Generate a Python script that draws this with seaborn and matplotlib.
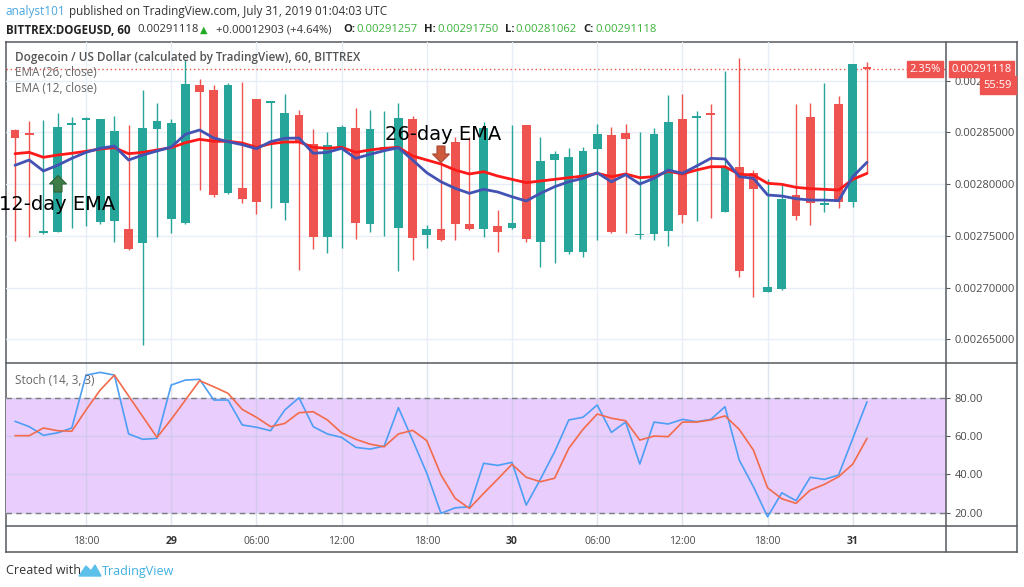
import numpy as np
import pandas as pd
import matplotlib
matplotlib.use("Agg")
import matplotlib.pyplot as plt
import matplotlib.patches as mpatches
from matplotlib.lines import Line2D
import seaborn as sns

# hourly candles, BITTREX:DOGEUSD 60 (Jul 28 13:00 -> Jul 31 01:00)
bar_open = [0.0028522, 0.0028480, 0.0027527, 0.0027539, 0.0028567, 0.0028615, 0.0027633, 0.0027640, 0.0027565, 0.0027430,
            0.0028534, 0.0027665, 0.0027623, 0.0028957, 0.0028908, 0.0027910, 0.0027958, 0.0028818, 0.0028786, 0.0027816,
            0.0028664, 0.0028384, 0.0027485, 0.0028355, 0.0028538, 0.0027616, 0.0028338, 0.0027578, 0.0028625, 0.0027504,
            0.0027565, 0.0028409, 0.0027611, 0.0027568, 0.0027591, 0.0027578, 0.0028570, 0.0027440, 0.0028232, 0.0027346,
            0.0027340, 0.0028335, 0.0028476, 0.0028493, 0.0027504, 0.0027514, 0.0027549, 0.0028625, 0.0028641, 0.0028672,
            0.0027732, 0.0028161, 0.0028109, 0.0026959, 0.0026985, 0.0027897, 0.0028644, 0.0027794, 0.0028773, 0.0027823,
            0.00291257]
bar_close = [0.0028447, 0.0028473, 0.0027546, 0.0028548, 0.0028573, 0.0028621, 0.0028625, 0.0028515, 0.0027372, 0.0028541,
             0.0028609, 0.0028586, 0.0028969, 0.0028886, 0.0027894, 0.0028957, 0.0027852, 0.0027826, 0.0028792, 0.0028689,
             0.0028409, 0.0027491, 0.0028374, 0.0028548, 0.0027626, 0.0028529, 0.0028357, 0.0028635, 0.0027475, 0.0027565,
             0.0027459, 0.0027616, 0.0027568, 0.0028544, 0.0027539, 0.0027620, 0.0027466, 0.0028225, 0.0028290, 0.0028258,
             0.0028319, 0.0028486, 0.0027536, 0.0028435, 0.0027510, 0.0028486, 0.0028596, 0.0027700, 0.0028644, 0.0028667,
             0.0028161, 0.0027162, 0.0027949, 0.0027008, 0.0027858, 0.0027691, 0.0027819, 0.0027800, 0.0027823, 0.0029159,
             0.00291118]
bar_high = [0.0028528, 0.0028609, 0.0028618, 0.0028689, 0.0028644, 0.0028644, 0.0028628, 0.0028660, 0.0028570, 0.0028908,
            0.0028780, 0.0028625, 0.0029198, 0.0029012, 0.0028957, 0.0028973, 0.0028983, 0.0028821, 0.0028805, 0.0028867,
            0.0028715, 0.0028529, 0.0028505, 0.0028570, 0.0028731, 0.0028715, 0.0028708, 0.0028786, 0.0028657, 0.0027600,
            0.0028215, 0.0028450, 0.0028457, 0.0028596, 0.0027750, 0.0028570, 0.0028575, 0.0028451, 0.0028319, 0.0028351,
            0.0028360, 0.0028580, 0.0028554, 0.0028580, 0.0028505, 0.0028538, 0.0028860, 0.0028867, 0.0028705, 0.0028773,
            0.0029095, 0.0029215, 0.0028135, 0.0028045, 0.0027990, 0.0028773, 0.0028786, 0.0028973, 0.0028850, 0.0029164,
            0.0029175]
bar_low = [0.0027449, 0.0027488, 0.0027517, 0.0027536, 0.0027572, 0.0027597, 0.0027611, 0.0027440, 0.0027362, 0.0026442,
           0.0027485, 0.0027529, 0.0027614, 0.0027942, 0.0027877, 0.0027903, 0.0027814, 0.0027707, 0.0027771, 0.0027652,
           0.0027169, 0.0027372, 0.0027330, 0.0027379, 0.0027466, 0.0027533, 0.0027500, 0.0027162, 0.0027266, 0.0027385,
           0.0027454, 0.0027459, 0.0027556, 0.0027485, 0.0027340, 0.0027565, 0.0027442, 0.0027201, 0.0027240, 0.0027324,
           0.0027292, 0.0027459, 0.0027524, 0.0027524, 0.0027469, 0.0027459, 0.0027401, 0.0027626, 0.0027643, 0.0027669,
           0.0027725, 0.0027099, 0.0026911, 0.0026956, 0.0026981, 0.0027652, 0.0027604, 0.0027732, 0.0027771, 0.0027781,
           0.00281062]

ema26 = [0.0028293, 0.0028306, 0.0028258, 0.0028280, 0.0028297, 0.0028316, 0.0028338, 0.0028351, 0.0028293, 0.0028306,
         0.0028329, 0.0028351, 0.0028399, 0.0028432, 0.0028413, 0.0028413, 0.0028396, 0.0028355, 0.0028389, 0.0028406,
         0.0028406, 0.0028355, 0.0028345, 0.0028355, 0.0028306, 0.0028329, 0.0028345, 0.0028355, 0.0028271, 0.0028232,
         0.0028193, 0.0028135, 0.0028097, 0.0028119, 0.0028077, 0.0028045, 0.0028013, 0.0028029, 0.0028045, 0.0028061,
         0.0028077, 0.0028103, 0.0028071, 0.0028097, 0.0028061, 0.0028071, 0.0028123, 0.0028097, 0.0028135, 0.0028167,
         0.0028167, 0.0028094, 0.0028087, 0.0028007, 0.0027997, 0.0027968, 0.0027955, 0.0027949, 0.0027942, 0.0028045,
         0.0028103]
ema12 = [0.0028181, 0.0028232, 0.0028126, 0.0028181, 0.0028248, 0.0028306, 0.0028345, 0.0028367, 0.0028232, 0.0028280,
         0.0028319, 0.0028357, 0.0028480, 0.0028522, 0.0028444, 0.0028409, 0.0028380, 0.0028341, 0.0028409, 0.0028442,
         0.0028444, 0.0028297, 0.0028306, 0.0028345, 0.0028248, 0.0028287, 0.0028322, 0.0028351, 0.0028232, 0.0028109,
         0.0028022, 0.0027958, 0.0027910, 0.0027949, 0.0027923, 0.0027877, 0.0027836, 0.0027910, 0.0027974, 0.0028022,
         0.0028055, 0.0028109, 0.0028022, 0.0028090, 0.0028000, 0.0028055, 0.0028135, 0.0028103, 0.0028174, 0.0028248,
         0.0028242, 0.0028071, 0.0028055, 0.0027894, 0.0027884, 0.0027858, 0.0027845, 0.0027845, 0.0027839, 0.0028071,
         0.0028210]

stoch_k = [67.7, 64.9, 60.4, 61.7, 64.2, 91.8, 93.2, 91.8, 61.1, 58.3,
           58.8, 86.6, 89.2, 89.6, 78.8, 78.8, 65.8, 64.6, 62.8, 73.6,
           80.0, 64.9, 61.1, 59.3, 54.1, 53.2, 54.8, 74.8, 57.9, 40.6,
           19.7, 22.6, 23.1, 45.8, 44.7, 46.3, 24.0, 37.5, 51.8, 68.4,
           69.8, 76.2, 61.9, 67.3, 45.4, 67.3, 66.3, 68.7, 67.5, 68.7,
           75.3, 47.5, 33.6, 17.9, 30.4, 26.3, 38.5, 37.4, 39.7, 58.8,
           77.9]
stoch_d = [60.2, 60.2, 64.2, 62.8, 62.5, 73.6, 84.0, 91.8, 80.9, 70.1,
           59.3, 68.7, 78.8, 88.9, 85.7, 82.3, 73.9, 69.8, 64.9, 66.6,
           72.2, 72.7, 68.4, 61.7, 58.3, 55.8, 54.4, 61.1, 63.0, 57.6,
           39.7, 27.5, 22.3, 30.1, 37.6, 45.3, 38.5, 36.2, 38.0, 53.6,
           63.5, 71.5, 69.3, 68.0, 57.9, 60.0, 59.7, 67.3, 67.3, 68.4,
           70.5, 63.5, 52.7, 33.0, 27.3, 24.9, 31.8, 34.8, 38.8, 45.4,
           58.8]

time_ticks = [5, 11, 17, 23, 29, 35, 41, 47, 53, 59]
time_labels = ["18:00", "29", "06:00", "12:00", "18:00", "30", "06:00", "12:00", "18:00", "31"]
price_ticks = [0.00265, 0.0027, 0.00275, 0.0028, 0.00285, 0.0029]
stoch_ticks = [20, 40, 60, 80]
last_price = 0.00291118

df = pd.DataFrame({"bar": np.arange(len(bar_open)), "open": bar_open, "close": bar_close,
                   "high": bar_high, "low": bar_low, "ema26": ema26, "ema12": ema12,
                   "k": stoch_k, "d": stoch_d})

GREEN = "#26a69a"
RED = "#ef5350"
FRAME = "#55585f"
GRID = "#e8eef5"
TXT = "#4a4a4a"

sns.set_style("white")
plt.rcParams["font.family"] = ["Open Sans", "DejaVu Sans"]

W, H = 1024, 587
fig = plt.figure(figsize=(W / 100, H / 100), dpi=100)


def fx(px):
    return px / W


def fy(py):
    return 1 - py / H


# outer frame
frame = fig.add_axes([fx(6), fy(552), fx(1017) - fx(6), fy(42) - fy(552)])
frame.set_xticks([])
frame.set_yticks([])
frame.set_facecolor("none")
for s in frame.spines.values():
    s.set_color(FRAME)
    s.set_linewidth(1.1)
for yy in (363, 526):
    fig.add_artist(Line2D([fx(6), fx(1017)], [fy(yy), fy(yy)], color=FRAME, lw=1.1))
fig.add_artist(Line2D([fx(946), fx(946)], [fy(42), fy(552)], color=FRAME, lw=1.1))

xlim = (-(15 - 6) / 14.2, (946 - 15) / 14.2)

# ---- price pane
ax = fig.add_axes([fx(6), fy(363), fx(946) - fx(6), fy(42) - fy(363)])
ax.set_facecolor("none")
up = df["close"] >= df["open"]
colors = np.where(up, GREEN, RED)
ax.vlines(df["bar"], df["low"], df["high"], colors=colors, lw=1, zorder=2)
body = (df["close"] - df["open"]).abs().clip(lower=1.8e-6)
ax.bar(df["bar"], body, bottom=np.minimum(df["open"], df["close"]), width=0.62,
       color=colors, zorder=3, linewidth=0)
sns.lineplot(data=df, x="bar", y="ema26", ax=ax, color="#ff1a1a", lw=2, zorder=4)
sns.lineplot(data=df, x="bar", y="ema12", ax=ax, color="#4353b3", lw=2, zorder=4)
ax.axhline(last_price, color=RED, ls=(0, (1, 2)), lw=1, zorder=1)
ax.set_xlim(*xlim)
ax.set_ylim(0.0026271, 0.0029372)
ax.set_xticks(time_ticks)
ax.set_yticks(price_ticks)
ax.set_yticklabels([f"{v:.8f}" for v in price_ticks])
ax.yaxis.tick_right()
ax.tick_params(axis="y", length=3, color=FRAME, pad=3, labelsize=8, labelcolor=TXT)
ax.tick_params(axis="x", length=0, labelbottom=False)
ax.grid(True, color=GRID, lw=1)
ax.set_axisbelow(True)
ax.set_xlabel("")
ax.set_ylabel("")
for s in ax.spines.values():
    s.set_visible(False)

# ---- stochastic pane
ax2 = fig.add_axes([fx(6), fy(526), fx(946) - fx(6), fy(363) - fy(526)])
ax2.set_facecolor("none")
ax2.axhspan(20, 80, color="#e9cdfc", zorder=0, lw=0)
for lvl in (20, 80):
    ax2.axhline(lvl, color="#7b7b82", ls=(0, (4, 3)), lw=1, zorder=2)
sns.lineplot(data=df, x="bar", y="k", ax=ax2, color="#4d9ef5", lw=1.2, zorder=4)
sns.lineplot(data=df, x="bar", y="d", ax=ax2, color="#f26b4c", lw=1.2, zorder=4)
ax2.set_xlim(*xlim)
ax2.set_ylim(13.1, 98.1)
ax2.set_yticks(stoch_ticks)
ax2.set_yticklabels([f"{v:.2f}" for v in stoch_ticks])
ax2.yaxis.tick_right()
ax2.tick_params(axis="y", length=3, color=FRAME, pad=3, labelsize=8, labelcolor=TXT)
ax2.set_xticks(time_ticks)
ax2.set_xticklabels(time_labels)
ax2.tick_params(axis="x", length=3, color=FRAME, pad=4, labelsize=7.5, labelcolor=TXT)
for lab in ax2.get_xticklabels():
    if ":" not in lab.get_text():
        lab.set_fontweight("bold")
        lab.set_color("#333333")
ax2.grid(True, color="#b9c7dc", alpha=0.45, lw=1)
ax2.set_axisbelow(True)
ax2.set_xlabel("")
ax2.set_ylabel("")
for s in ax2.spines.values():
    s.set_visible(False)

# ---- header
fig.text(fx(6), fy(12), "analyst101", color="#49a7df", fontsize=8.5, va="center")
fig.text(fx(69), fy(12), "published on TradingView.com, July 31, 2019 01:04:03 UTC",
         color="#333333", fontsize=8.5, va="center")
hdr = [(6, "BITTREX:DOGEUSD, 60", "#222222", "bold", 8.3),
       (137, "0.00291118", "#333333", "normal", 8.1),
       (200, "\u25b2", "#22aa22", "normal", 7),
       (216, "+0.00012903 (+4.64%)", "#333333", "normal", 8.1),
       (343, "O:", "#222222", "bold", 8.1),
       (356, "0.00291257", "#3cb33c", "normal", 8.1),
       (424, "H:", "#222222", "bold", 8.1),
       (437, "0.00291750", "#3cb33c", "normal", 8.1),
       (505, "L:", "#222222", "bold", 8.1),
       (515, "0.00281062", "#3cb33c", "normal", 8.1),
       (583, "C:", "#222222", "bold", 8.1),
       (595, "0.00291118", "#3cb33c", "normal", 8.1)]
for px, s, c, w, fs in hdr:
    fig.text(fx(px), fy(30), s, color=c, fontsize=fs, fontweight=w, va="center")

# pane legends
fig.text(fx(15), fy(57), "Dogecoin / US Dollar (calculated by TradingView), 60, BITTREX",
         color="#555555", fontsize=8.5, va="center", fontweight="semibold")
fig.text(fx(15), fy(73), "EMA (26, close)", color="#666666", fontsize=8.5, va="center")
fig.text(fx(15), fy(89), "EMA (12, close)", color="#666666", fontsize=8.5, va="center")
fig.text(fx(15), fy(380), "Stoch (14, 3, 3)", color="#666666", fontsize=8.5, va="center")

# annotations
fig.text(fx(-1), fy(205), "12-day EMA", color="black", fontsize=14, va="center",
         family="DejaVu Sans")
fig.text(fx(385), fy(134), "26-day EMA", color="black", fontsize=14, va="center",
         family="DejaVu Sans")
fig.add_artist(mpatches.FancyArrow(0.58, (H - 192) / 100, 0, 0.165, width=0.08,
                                   head_width=0.17, head_length=0.085, length_includes_head=True,
                                   transform=fig.dpi_scale_trans, facecolor="#3f7d48",
                                   edgecolor="#2f6336", lw=0.8))
fig.add_artist(mpatches.FancyArrow(4.41, (H - 146) / 100, 0, -0.165, width=0.08,
                                   head_width=0.17, head_length=0.085, length_includes_head=True,
                                   transform=fig.dpi_scale_trans, facecolor="#cd5a3d",
                                   edgecolor="#a9452d", lw=0.8))

# price labels on the right
fig.text(fx(925), fy(69), "2.35%", color="white", fontsize=8, ha="center", va="center",
         bbox=dict(boxstyle="square,pad=0.25", fc=RED, ec=RED))
fig.text(fx(981.5), fy(69), "0.00291118", color="white", fontsize=8, ha="center", va="center",
         bbox=dict(boxstyle="square,pad=0.25", fc=RED, ec=RED))
fig.text(fx(998), fy(85), "55:59", color="white", fontsize=8, ha="center", va="center",
         bbox=dict(boxstyle="square,pad=0.3", fc=RED, ec=RED))

# footer
fig.text(fx(6), fy(571), "Created with", color="#333333", fontsize=9, va="center")
logo = mpatches.Polygon([(fx(79), fy(576)), (fx(86), fy(566)), (fx(91), fy(571)), (fx(95), fy(565)),
                         (fx(101), fy(576))], closed=True, fc="#5cc0ea", ec="#5cc0ea",
                        transform=fig.transFigure)
fig.add_artist(logo)
fig.text(fx(102), fy(571), "TradingView", color="#3fb0e3", fontsize=9, va="center")

fig.savefig("out.png", dpi=100, facecolor="white")
